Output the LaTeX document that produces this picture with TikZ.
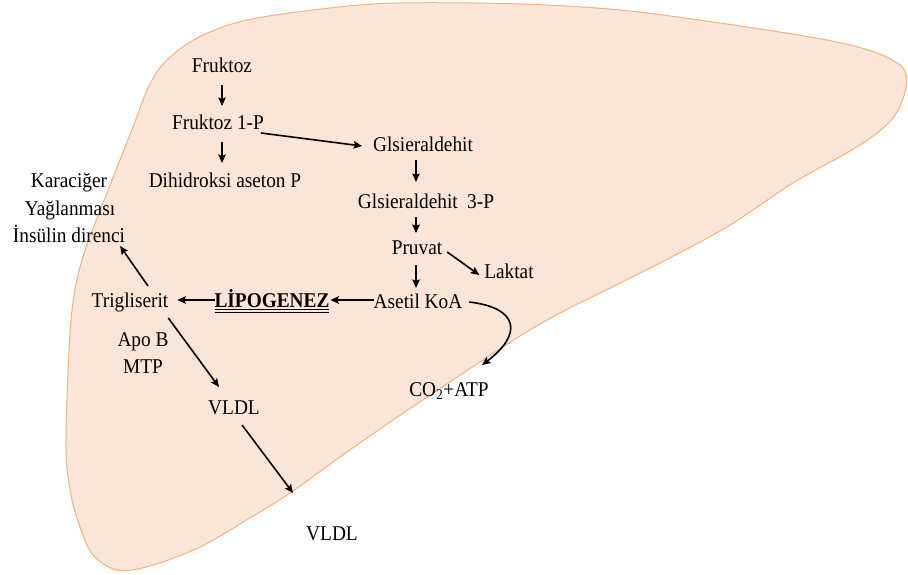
\documentclass[tikz,border=0pt]{standalone}
\usepackage{fontspec}
\setmainfont[FakeStretch=0.92]{Liberation Serif}
\usetikzlibrary{arrows.meta}
\definecolor{liverfill}{RGB}{251,229,214}
\definecolor{liverline}{RGB}{244,177,131}
\begin{document}
\begin{tikzpicture}[x=1pt,y=-1pt,
  lbl/.style={inner sep=0pt, outer sep=0pt, anchor=base, font=\fontsize{21}{25}\selectfont},
  arr/.style={-{Stealth[length=8.5pt,width=7.5pt,inset=1.5pt]}, line width=1.6pt}]
\useasboundingbox (0,0) rectangle (908,575);
\draw[fill=liverfill, draw=liverline, line width=1pt] plot[smooth cycle, tension=0.55] coordinates {
 (117,570) (150,566) (200,547) (250,518) (290,493) (340,457) (393,420) (438,390) (483,360) (520,336)
 (560,313) (610,288) (660,263) (727,227) (793,183) (860,145) (893,118) (906,88) (903,68) (877,53)
 (827,40) (720,23) (620,10) (520,4) (400,3) (330,8) (247,20) (197,38) (165,62) (148,88) (133,127)
 (107,193) (82,260) (71,320) (66,440) (70,490) (80,527) (93,555)};

\node[lbl] (fr) at (222,73) {Fruktoz};
\node[lbl] (fr1) at (218,130) {Fruktoz 1-P};
\node[lbl] (dap) at (225,187) {Dihidroksi aseton P};
\node[lbl] (gl) at (423,152) {Glsieraldehit};
\node[lbl] (gl3) at (426,208) {Glsieraldehit\hspace{0.45em}3-P};
\node[lbl] (pr) at (417,254) {Pruvat};
\node[lbl] (lk) at (509,278) {Laktat};
\node[lbl] (ak) at (418,308) {Asetil KoA};
\node[lbl, font=\fontsize{21}{25}\selectfont\bfseries] (lp) at (272,307) {LİPOGENEZ};
\node[lbl] (tg) at (130,307) {Trigliserit};
\node[lbl] (k1) at (69,187) {Karaciğer};
\node[lbl] (k2) at (70,215) {Yağlanması};
\node[lbl] (k3) at (69,242) {İnsülin direnci};
\node[lbl] (apo) at (143,346) {Apo B};
\node[lbl] (mtp) at (143,373) {MTP};
\node[lbl] (vl1) at (234,414) {VLDL};
\node[lbl] (vl2) at (332,540) {VLDL};
\node[lbl] (co) at (449,396) {CO\textsubscript{2}+ATP};

\draw[line width=0.9pt] ([yshift=-2.5pt]lp.base west) -- ([yshift=-2.5pt]lp.base east);
\draw[line width=0.9pt] ([yshift=-5.5pt]lp.base west) -- ([yshift=-5.5pt]lp.base east);

\draw[arr] ([yshift=-12pt]fr.base) -- ([xshift=4pt,yshift=24pt]fr1.base);
\draw[arr] ([xshift=4pt,yshift=-12pt]fr1.base) -- ([xshift=-3pt,yshift=24pt]dap.base);
\draw[arr] ([xshift=-3pt,yshift=-3pt]fr1.base east) -- ([xshift=-11pt,yshift=6pt]gl.base west);
\draw[arr] ([xshift=-7pt,yshift=-8pt]gl.base) -- ([xshift=-10pt,yshift=26pt]gl3.base);
\draw[arr] ([xshift=-10pt,yshift=-9pt]gl3.base) -- ([xshift=-1pt,yshift=21pt]pr.base);
\draw[arr] ([xshift=-1pt,yshift=-11pt]pr.base) -- ([xshift=-2pt,yshift=20pt]ak.base);
\draw[arr] ([xshift=5pt,yshift=2pt]pr.base east) -- ([xshift=-5pt,yshift=3pt]lk.base west);
\draw[arr] ([yshift=8pt]ak.base west) -- ([xshift=1pt,yshift=7pt]lp.base east);
\draw[arr] ([yshift=7pt]lp.base west) -- ([xshift=9pt,yshift=7pt]tg.base east);
\draw[arr] ([xshift=18pt,yshift=21pt]tg.base) -- ([xshift=-5pt,yshift=-4pt]k3.base east);
\draw[arr] ([yshift=-11pt]tg.base east) -- ([xshift=-15pt,yshift=27pt]vl1.base);
\draw[arr] ([xshift=8pt,yshift=-11pt]vl1.base) -- ([xshift=-39pt,yshift=47pt]vl2.base);
\draw[arr] ([xshift=7pt,yshift=6pt]ak.base east) .. controls (520,308) and (522,335) .. ([xshift=33pt,yshift=31pt]co.base);
\end{tikzpicture}
\end{document}
